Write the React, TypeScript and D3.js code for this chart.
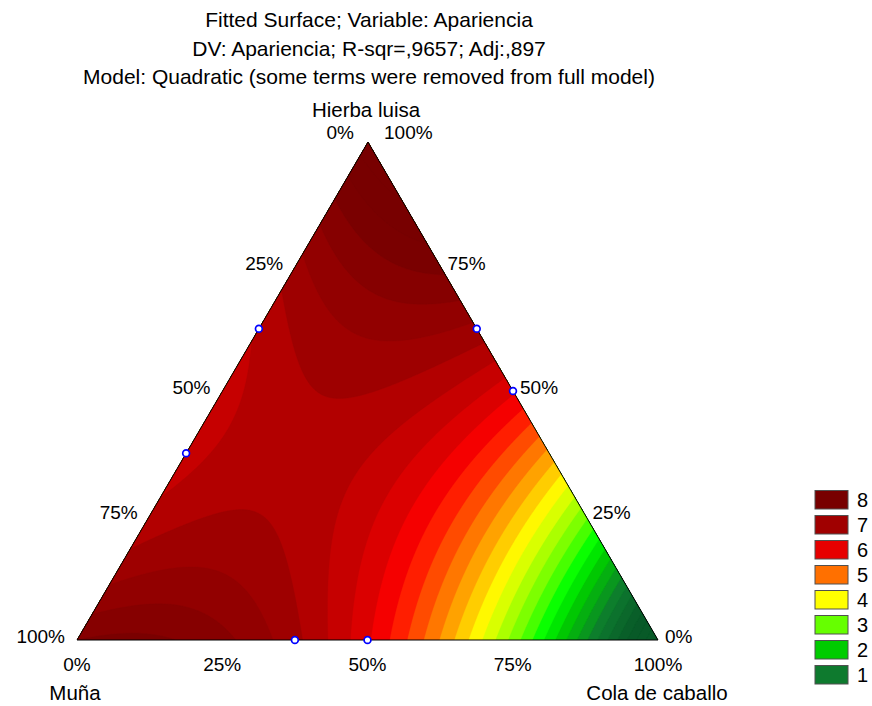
import React, { useMemo } from "react";
import * as d3 from "d3";

const titleLines = [
  "Fitted Surface; Variable: Apariencia",
  "DV: Apariencia; R-sqr=,9657; Adj:,897",
  "Model: Quadratic (some terms were removed from full model)",
];
// component order: Hierba luisa (top), Muña (left), Cola de caballo (right)
const componentNames = ["Hierba luisa", "Muña", "Cola de caballo"];

// Scheffé quadratic coefficients, estimated from the colours of the picture
const linearCoefs = [8.6, 7.8, -1.0];
const pairI = [0, 0, 1];
const pairJ = [1, 2, 2];
const pairCoefs = [-7.0, 9.0, 10.6];

// design points (fractions of Hierba luisa, Muña, Cola de caballo)
const pointH = [0.625, 0.375, 0.625, 0.5, 0, 0];
const pointM = [0.375, 0.625, 0, 0, 0.625, 0.5];
const pointC = [0, 0, 0.375, 0.5, 0.375, 0.5];

const tickValues = [0, 25, 50, 75, 100];

const legendLevels = [8, 7, 6, 5, 4, 3, 2, 1];
const legendColors = ["#780000", "#a00000", "#e60000", "#ff7000", "#ffff00", "#66ff00", "#00cc00", "#0e7a2e"];

const rampValues = [0, 1, 2, 2.5, 3, 4, 5, 5.75, 6, 7, 8];
const rampColors = ["#085a28", "#0e7a2e", "#00cc00", "#00ff00", "#66ff00", "#ffff00", "#ff7000", "#ff0000", "#e60000", "#a00000", "#780000"];
const contourStep = 0.3;

const W = 872;
const H = 706;
const apex = { x: 368, y: 142 };
const left = { x: 77, y: 640 };
const right = { x: 658, y: 640 };
const font = "'Liberation Sans', Arial, sans-serif";

const hScale = d3.scaleLinear().domain([0, 1]).range([left.y, apex.y]);
const cScale = d3.scaleLinear().domain([0, 1]).range([left.x, right.x]);

const toXY = (h: number, m: number, c: number) => [
  apex.x * h + left.x * m + right.x * c,
  apex.y * h + left.y * m + right.y * c,
];

const model = (p: number[]) => {
  let v = 0;
  for (let k = 0; k < 3; k++) v += linearCoefs[k] * p[k];
  for (let k = 0; k < pairCoefs.length; k++) v += pairCoefs[k] * p[pairI[k]] * p[pairJ[k]];
  return v;
};

const ramp = d3.scaleLinear<string>().domain(rampValues).range(rampColors).clamp(true);

export default function App() {
  const bands = useMemo(() => {
    const cell = 1.5;
    const x0 = 66;
    const y0 = 130;
    const nx = Math.ceil((670 - x0) / cell);
    const ny = Math.ceil((652 - y0) / cell);
    const values = new Array(nx * ny);
    for (let j = 0; j < ny; j++) {
      for (let i = 0; i < nx; i++) {
        const x = x0 + (i + 0.5) * cell;
        const y = y0 + (j + 0.5) * cell;
        const h = hScale.invert(y);
        const c = cScale.invert(x - (apex.x - left.x) * h);
        values[j * nx + i] = model([h, 1 - h - c, c]);
      }
    }
    const thresholds = d3.range(-2.1, 10, contourStep);
    const contours = d3.contours().size([nx, ny]).thresholds(thresholds)(values);
    const path = d3.geoPath(d3.geoIdentity().scale(cell).translate([x0, y0]) as any);
    return contours.map((c) => ({
      d: path(c as any) || "",
      fill: ramp(c.value + contourStep / 2),
    }));
  }, []);

  const triPath = `M${apex.x},${apex.y}L${left.x},${left.y}L${right.x},${right.y}Z`;

  const leftTicks = tickValues.map((t) => {
    const [x, y] = toXY(1 - t / 100, t / 100, 0);
    return t === 0
      ? { x: x - 14, y: y - 3, t }
      : { x: x - 12, y: y + 3, t };
  });
  const rightTicks = tickValues.map((t) => {
    const [x, y] = toXY(t / 100, 0, 1 - t / 100);
    return t === 100
      ? { x: x + 16, y: y - 3, t }
      : { x: x + 7, y: y + 3, t };
  });
  const bottomTicks = tickValues.map((t) => ({ x: cScale(t / 100), y: 671, t }));

  return (
    <svg
      width={W}
      height={H}
      style={{ position: "absolute", left: 0, top: 0, background: "#fff" }}
      fontFamily={font}
    >
      <defs>
        <clipPath id="tri">
          <path d={triPath} />
        </clipPath>
      </defs>
      {titleLines.map((t, i) => (
        <text key={i} x={apex.x + 1} y={27 + i * 28.5} textAnchor="middle" fontSize={21} fill="#000">
          {t}
        </text>
      ))}
      <g clipPath="url(#tri)">
        <path d={triPath} fill={ramp(-2)} />
        {bands.map((b, i) => (
          <path key={i} d={b.d} fill={b.fill} stroke={b.fill} strokeWidth={0.3} />
        ))}
      </g>
      <path d={triPath} fill="none" stroke="#000" strokeWidth={1} />
      {pointH.map((h, i) => {
        const [x, y] = toXY(h, pointM[i], pointC[i]);
        return <circle key={i} cx={x} cy={y} r={3.4} fill="#fff" stroke="#0000ff" strokeWidth={1.7} />;
      })}
      <g fontSize={19} fill="#000">
        {leftTicks.map((d, i) => (
          <text key={"l" + i} x={d.x} y={d.y} textAnchor="end">{d.t}%</text>
        ))}
        {rightTicks.map((d, i) => (
          <text key={"r" + i} x={d.x} y={d.y} textAnchor="start">{d.t}%</text>
        ))}
        {bottomTicks.map((d, i) => (
          <text key={"b" + i} x={d.x} y={d.y} textAnchor="middle">{d.t}%</text>
        ))}
      </g>
      <g fontSize={20.5} fill="#000">
        <text x={apex.x - 2} y={117} textAnchor="middle">{componentNames[0]}</text>
        <text x={left.x - 2} y={700} textAnchor="middle">{componentNames[1]}</text>
        <text x={right.x - 1} y={700} textAnchor="middle">{componentNames[2]}</text>
      </g>
      <g>
        {legendLevels.map((lv, i) => (
          <g key={lv} transform={`translate(815,${490.5 + i * 25})`}>
            <rect width={33} height={18.5} fill={legendColors[i]} stroke="#505050" strokeWidth={1} />
            <text x={42} y={16.5} fontSize={20} fill="#000">{lv}</text>
          </g>
        ))}
      </g>
    </svg>
  );
}
